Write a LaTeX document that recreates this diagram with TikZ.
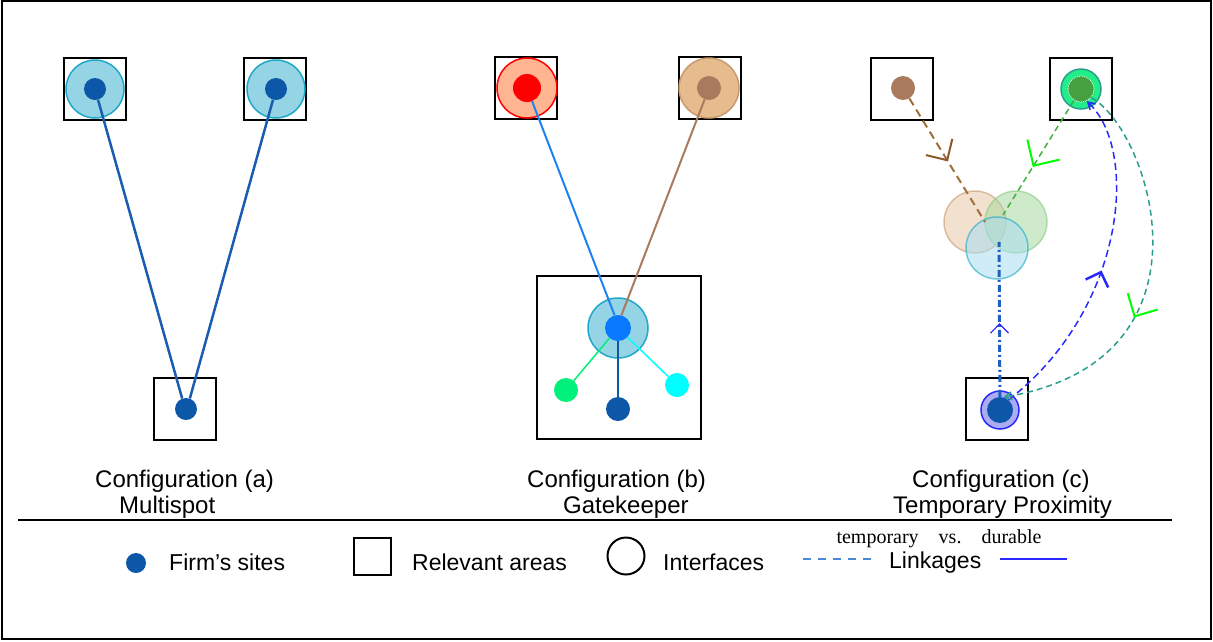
\documentclass[tikz,border=0pt]{standalone}
\usepackage{fontspec}
\setmainfont{Liberation Sans}
\newfontfamily\notefont{Liberation Serif}
\usetikzlibrary{arrows.meta,decorations.markings}
\definecolor{siteblue}{HTML}{0D57A8}
\definecolor{linkblue}{HTML}{1A5DB0}
\definecolor{ifacefill}{HTML}{94D4E4}
\definecolor{ifaceline}{HTML}{20A8C8}
\definecolor{salmonfill}{HTML}{FFB592}
\definecolor{tanfill}{HTML}{E6BB8E}
\definecolor{tanline}{HTML}{C89A70}
\definecolor{brownsite}{HTML}{A97B5C}
\definecolor{hubblue}{HTML}{0A78FF}
\definecolor{hublink}{HTML}{1E82F0}
\definecolor{sitegreen}{HTML}{00F07C}
\definecolor{sitecyan}{HTML}{00FFFF}
\definecolor{brightgreen}{HTML}{22EE88}
\definecolor{tealline}{HTML}{2A9D8F}
\definecolor{darkgreen}{HTML}{45A040}
\definecolor{lavender}{HTML}{ACACF2}
\definecolor{durableblue}{HTML}{2828FF}
\definecolor{greenfill}{HTML}{A8D8A0}
\definecolor{greenline}{HTML}{8CCB84}
\definecolor{blobtan}{HTML}{E8C9A6}
\definecolor{blobcyan}{HTML}{A8DDF0}
\definecolor{brownlink}{HTML}{A0703C}
\definecolor{brownbarb}{HTML}{8B5A2B}
\definecolor{greenlink}{HTML}{40B040}
\definecolor{barbgreen}{HTML}{00FF00}
\definecolor{dashblue}{HTML}{4A8AD0}
\definecolor{dotblue}{HTML}{1E5FBF}
\begin{document}
\begin{tikzpicture}[x=1pt, y=-1pt,
    area/.style={draw, line width=2.5pt, minimum size=62pt, inner sep=0pt},
    site/.style={circle, fill=siteblue, minimum size=22pt, inner sep=0pt},
    iface/.style={circle, draw=ifaceline, fill=ifacefill, line width=1.5pt, minimum size=58pt, inner sep=0pt},
    blob/.style={circle, minimum size=62pt, inner sep=0pt, line width=1.5pt, fill opacity=0.55, draw opacity=0.6},
    link/.style={line width=2.5pt},
    midbarb/.style n args={3}{postaction={decorate, decoration={markings,
        mark=at position #1 with {\draw[-, solid, line cap=butt, miter limit=4, #3]
            (-#2pt,#2pt) -- (0pt,0pt) -- (-#2pt,-#2pt);}}}},
    caption/.style={anchor=base west, inner sep=0pt, font=\fontsize{24}{24}\selectfont},
    legend/.style={anchor=base west, inner sep=0pt, font=\fontsize{23}{23}\selectfont}
]
\useasboundingbox (0,0) rectangle (1213,641);
\draw[line width=2pt] (2,1) rectangle (1211,639);

\node[area] (a1box) at (95,89) {};
\node[iface] (a1if) at (95,89) {};
\node[site] (a1) at (95,89) {};
\node[area] (a2box) at (275,89) {};
\node[iface] (a2if) at (276,89) {};
\node[site] (a2) at (276,89) {};
\node[area] (a3box) at (185,409) {};
\node[site] (a3) at (186,409) {};
\draw[link, linkblue] (a1) -- (a3.110);
\draw[link, linkblue] (a2) -- (a3.70);

\node[area] (b1box) at (526,88) {};
\node[iface, draw=red, fill=salmonfill, minimum size=60pt] (b1if) at (527,88) {};
\node[site, fill=red, minimum size=28pt] (b1) at (527,88) {};
\node[area] (b2box) at (710,88) {};
\node[iface, draw=tanline, fill=tanfill, minimum size=60pt] (b2if) at (709,88) {};
\node[site, fill=brownsite, minimum size=24pt] (b2) at (709,88) {};
\node[area, minimum width=164pt, minimum height=163pt] (b3box) at (619,357.5) {};
\node[iface, minimum size=60pt] (b0if) at (618,328) {};
\node[site, fill=hubblue, minimum size=26pt] (b0) at (618,328) {};
\node[site, fill=sitegreen, minimum size=24pt] (bg) at (566,390) {};
\node[site, minimum size=24pt] (bd) at (618,409) {};
\node[site, fill=sitecyan, minimum size=24pt] (bc) at (677,385) {};
\draw[line width=2pt, hublink] (b1) -- (b0.105);
\draw[line width=2pt, brownsite] (b2) -- (b0.75);
\draw[line width=1.5pt, sitegreen] (b0) -- (bg);
\draw[line width=1.5pt, sitecyan] (b0) -- (bc);
\draw[line width=2pt, siteblue] (b0) -- (bd);

\node[blob, draw=tanline, fill=blobtan] (ctan) at (975,222) {};
\node[blob, draw=greenline, fill=greenfill] (cgrn) at (1016,222) {};
\node[blob, draw=ifaceline, fill=blobcyan] (ccyan) at (997,248) {};
\node[area] (c1box) at (902,89) {};
\node[site, fill=brownsite, minimum size=24pt] (c1) at (903,88) {};
\node[area] (c2box) at (1081,89) {};
\node[circle, draw=tealline, fill=brightgreen, line width=1.5pt, minimum size=40pt, inner sep=0pt] (c2if) at (1081,89) {};
\node[site, fill=darkgreen, draw=white, densely dotted, line width=0.8pt, minimum size=26pt] (c2) at (1081,89) {};
\node[area] (c3box) at (997,409) {};
\node[circle, draw=durableblue, fill=lavender, line width=1.5pt, minimum size=38pt, inner sep=0pt] (c3if) at (1000,410) {};
\node[site, minimum size=26pt] (c3) at (1000,410) {};
\coordinate (tanend) at (985,222);
\coordinate (grnend) at (1003,215);
\coordinate (cyanend) at (999,242);
\draw[brownlink, line width=2pt, dash pattern=on 8pt off 5pt,
    midbarb={0.5}{15.5}{brownbarb, line width=2pt}] (c1) -- (tanend);
\draw[greenlink, line width=1.5pt, dash pattern=on 6pt off 4pt,
    midbarb={0.57}{19}{barbgreen, line width=2pt}] (c2) -- (grnend);
\draw[dotblue, line width=3pt, dash pattern=on 7pt off 3pt on 2pt off 3pt,
    midbarb={0.47}{9}{durableblue, line width=1.2pt}] (c3) -- (cyanend);
\draw[durableblue, line width=1.5pt, dash pattern=on 7pt off 4pt,
    midbarb={0.47}{12}{durableblue, line width=2.5pt},
    -{Straight Barb[angle=60:8pt, line width=1.5pt]}]
    (c3.50) .. controls (1125,310) and (1140,150) .. (c2.-65);
\draw[tealline, line width=1.5pt, dash pattern=on 6pt off 4pt,
    midbarb={0.6}{17}{barbgreen, line width=2pt},
    -{Straight Barb[angle=60:8pt, line width=1.5pt]}]
    (c2.-40) .. controls (1150,130) and (1225,360) .. (c3.75);

\node[caption] (capa) at (95,487) {Configuration (a)};
\node[caption] (capa2) at (119,513) {Multispot};
\node[caption] (capb) at (527,487) {Configuration (b)};
\node[caption] (capb2) at (563,513) {Gatekeeper};
\node[caption] (capc) at (912,487) {Configuration (c)};
\node[caption] (capc2) at (893,513) {Temporary Proximity};
\coordinate (ruleleft) at (18,520);
\coordinate (ruleright) at (1172,520);
\draw[line width=1.5pt] (ruleleft) -- (ruleright);

\node[site, minimum size=20pt] (lsite) at (136,563) {};
\node[legend] (lsitetext) at (169,570) {Firm's sites};
\node[draw, line width=2pt, minimum size=37pt, inner sep=0pt] (larea) at (372,556) {};
\node[legend] (lareatext) at (412,570) {Relevant areas};
\node[circle, draw, line width=2pt, minimum size=37pt, inner sep=0pt] (liface) at (626,556) {};
\node[legend] (lifacetext) at (663,570) {Interfaces};
\coordinate (tempa) at (803,559);
\coordinate (tempb) at (873,559);
\draw[dashblue, line width=2pt, dash pattern=on 8pt off 7pt] (tempa) -- (tempb);
\node[legend] (llink) at (889,568) {Linkages};
\coordinate (dura) at (1000,559);
\coordinate (durb) at (1067,559);
\draw[durableblue, line width=2pt] (dura) -- (durb);
\node[anchor=base, inner sep=0pt, font=\notefont\fontsize{20}{20}\selectfont] (lnote) at (939,543)
    {temporary\hspace{1em}vs.\hspace{1em}durable};
\end{tikzpicture}
\end{document}
